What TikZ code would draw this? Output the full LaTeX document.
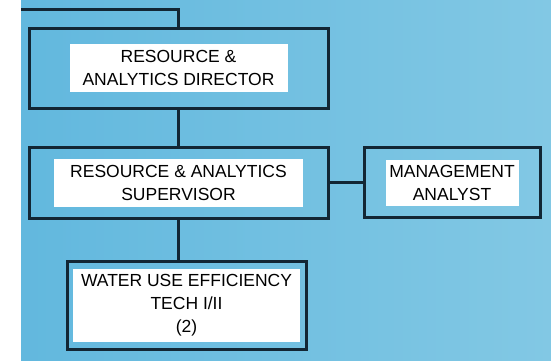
\documentclass[tikz,border=0pt]{standalone}
\usepackage{fontspec}
\setmainfont{Liberation Sans}
\usetikzlibrary{positioning}
\definecolor{skyblue}{RGB}{98,184,222}
\definecolor{skylight}{RGB}{130,200,228}
\definecolor{framenavy}{RGB}{18,38,52}

\begin{document}
\begin{tikzpicture}[x=1pt, y=-1pt, line width=3pt, node distance=36pt]
	\tikzstyle{frame}=[draw=framenavy, line width=3pt, inner sep=0pt]
	\tikzstyle{card}=[fill=white, inner sep=0pt, align=center, text=black, font=\fontsize{17.5}{23}\selectfont]
	\useasboundingbox (0,0) rectangle (551,360);
	\shade[left color=skyblue, right color=skylight] (21,0) rectangle (551,360);
	% boxes
	\node[frame, minimum width=299pt, minimum height=80pt] (dir) at (178.5,68) {};
	\node[card, minimum width=218pt, minimum height=48pt] (dirtext) at (dir) {RESOURCE \&\\ANALYTICS DIRECTOR};
	\node[frame, minimum width=299pt, minimum height=71pt, below=36pt of dir] (sup) {};
	\node[card, minimum width=249pt, minimum height=48pt] (suptext) at (sup) {RESOURCE \& ANALYTICS\\SUPERVISOR};
	\node[frame, minimum width=176pt, minimum height=70pt, right=33pt of sup] (ana) {};
	\node[card, minimum width=133pt, minimum height=46pt] (anatext) at (ana) {MANAGEMENT\\ANALYST};
	\node[frame, minimum width=239pt, minimum height=88pt, below=40pt of sup.south west, anchor=north west, xshift=38pt] (tech) {};
	\node[card, minimum width=227pt, minimum height=73pt] (techtext) at (tech) {WATER USE EFFICIENCY\\TECH I/II\\(2)};
	% lines
	\coordinate (edge) at (21,9);
	\draw[framenavy] (edge) -| (dir.north);
	\draw[framenavy] (dir.south) -- (sup.north);
	\draw[framenavy] (sup.east) -- (ana.west);
	\draw[framenavy] (sup.south) -- (sup.south |- tech.north);
\end{tikzpicture}
\end{document}
